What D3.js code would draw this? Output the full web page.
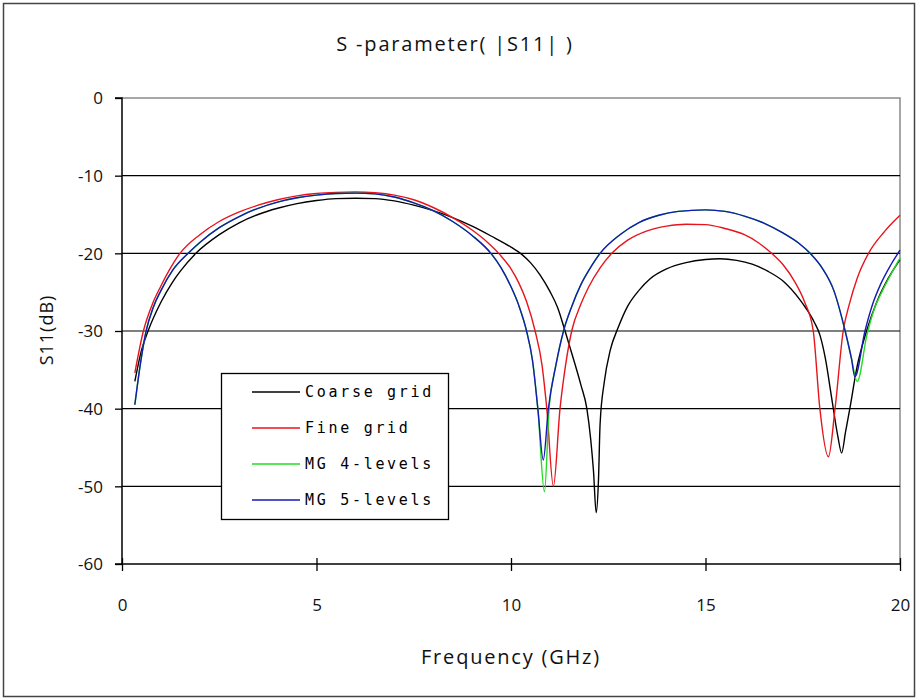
<!DOCTYPE html>
<html>
<head>
<meta charset="utf-8">
<script src="https://cdn.jsdelivr.net/npm/d3@7"></script>
<style>
  html, body { margin: 0; padding: 0; background: #fff; }
  svg { display: block; }
</style>
</head>
<body>
<svg id="chart" width="919" height="700"></svg>
<script>
// ---- Data ----
const titleText = "S -parameter( |S11| )";
const xLabel = "Frequency (GHz)";
const yLabel = "S11(dB)";
const xTicks = [0, 5, 10, 15, 20];
const yTicks = [0, -10, -20, -30, -40, -50, -60];
const seriesNames = ["Coarse grid", "Fine grid", "MG 4-levels", "MG 5-levels"];
const seriesColors = ["#000000", "#e8141c", "#22dd22", "#1818b4"];

const coarseF  = [0.33, 0.5, 0.67, 1.0, 1.3, 1.5, 1.9, 2.5, 3.0, 3.5, 4.0, 4.5, 5.0, 5.5, 6.0, 6.5, 7.0, 7.5, 8.0, 8.5, 9.0, 9.5, 10.0, 10.27, 10.5, 10.75, 11.0, 11.2, 11.39, 11.6, 11.8, 11.95, 12.05, 12.12, 12.19, 12.25, 12.29, 12.4, 12.55, 12.76, 13.0, 13.3, 13.57, 14.0, 14.5, 15.0, 15.37, 15.8, 16.2, 16.6, 17.0, 17.43, 17.6, 17.8, 17.94, 18.08, 18.24, 18.4, 18.5, 18.6, 18.71, 18.9, 19.14, 19.4, 19.7, 20.0];
const coarseDB = [-36.5, -32.5, -30, -26.3, -23.7, -22.3, -20, -17.6, -16.1, -15.0, -14.2, -13.6, -13.2, -12.95, -12.9, -12.95, -13.25, -13.8, -14.5, -15.4, -16.5, -17.8, -19.2, -20.1, -21.2, -22.8, -24.9, -27.0, -30, -33.5, -37, -40, -44, -48, -53.4, -49, -42, -36.5, -32.5, -29.5, -26.8, -24.7, -23.3, -22.0, -21.2, -20.8, -20.7, -20.9, -21.4, -22.3, -23.6, -26.0, -27.2, -28.9, -30.5, -33.5, -38.5, -43.5, -45.7, -43, -40, -34.5, -30, -26.3, -23.2, -20.8];

const fineF  = [0.33, 0.55, 0.8, 1.0, 1.2, 1.49, 2.0, 2.5, 3.0, 3.5, 4.0, 4.5, 5.0, 5.5, 6.0, 6.5, 7.0, 7.5, 8.0, 8.5, 9.0, 9.4, 9.72, 10.0, 10.2, 10.4, 10.62, 10.8, 10.92, 11.09, 11.26, 11.4, 11.56, 11.8, 12.0, 12.3, 12.59, 13.0, 13.5, 14.0, 14.5, 15.0, 15.5, 16.0, 16.35, 16.7, 17.0, 17.3, 17.55, 17.77, 17.94, 18.16, 18.33, 18.54, 18.7, 18.9, 19.19, 19.6, 20.0];
const fineDB = [-35.4, -30, -26.3, -24.2, -22.3, -20, -17.6, -15.9, -14.7, -13.8, -13.1, -12.6, -12.3, -12.15, -12.1, -12.2, -12.5, -13.1, -14.1, -15.4, -17.0, -18.6, -20.2, -22.0, -23.8, -26.2, -30, -34.5, -40, -50, -40, -34.5, -30, -26.5, -24.3, -21.8, -20, -18.3, -17.1, -16.5, -16.25, -16.3, -16.8, -17.6, -18.6, -20, -21.5, -23.7, -26.3, -30, -40, -46.2, -40, -30, -26.5, -23.2, -20, -17.2, -15.1];

const mg4F  = [0.33, 0.45, 0.62, 0.8, 1.0, 1.3, 1.7, 2.0, 2.5, 3.0, 3.5, 4.0, 4.5, 5.0, 5.5, 6.0, 6.5, 7.0, 7.5, 8.0, 8.5, 9.0, 9.5, 9.75, 10.0, 10.2, 10.4, 10.55, 10.69, 10.86, 10.98, 11.15, 11.35, 11.55, 11.8, 12.0, 12.29, 12.8, 13.3, 13.8, 14.3, 15.0, 15.5, 16.0, 16.5, 17.0, 17.4, 17.69, 18.0, 18.3, 18.59, 18.75, 18.9, 19.15, 19.35, 19.55, 19.8, 20.0];
const mg4DB = [-39.5, -35, -30, -27, -24.8, -22.2, -20, -18.6, -16.7, -15.3, -14.2, -13.4, -12.85, -12.5, -12.3, -12.25, -12.35, -12.75, -13.5, -14.5, -15.9, -17.7, -20.1, -21.9, -24.3, -26.7, -30, -33.7, -40, -50.7, -40, -34.5, -30, -27, -24, -22.2, -20, -17.6, -16.0, -15.1, -14.6, -14.4, -14.6, -15.2, -16.1, -17.4, -18.7, -20, -21.9, -24.8, -30, -33.5, -36.5, -30.5, -27, -24.8, -22.4, -20.6];

const mg5F  = [0.33, 0.45, 0.62, 0.8, 1.0, 1.3, 1.7, 2.0, 2.5, 3.0, 3.5, 4.0, 4.5, 5.0, 5.5, 6.0, 6.5, 7.0, 7.5, 8.0, 8.5, 9.0, 9.5, 9.75, 10.0, 10.2, 10.4, 10.55, 10.69, 10.83, 10.96, 11.15, 11.35, 11.55, 11.8, 12.0, 12.29, 12.8, 13.3, 13.8, 14.3, 15.0, 15.5, 16.0, 16.5, 17.0, 17.4, 17.69, 18.0, 18.3, 18.59, 18.75, 18.84, 19.1, 19.3, 19.5, 19.75, 20.0];
const mg5DB = [-39.5, -35, -30, -27, -24.8, -22.2, -20, -18.6, -16.7, -15.3, -14.2, -13.4, -12.85, -12.5, -12.3, -12.25, -12.35, -12.75, -13.5, -14.5, -15.9, -17.7, -20.1, -21.9, -24.3, -26.7, -30, -33.7, -40, -46.6, -40, -34.5, -30, -27, -24, -22.2, -20, -17.6, -16.0, -15.1, -14.6, -14.4, -14.6, -15.2, -16.1, -17.4, -18.7, -20, -21.9, -24.8, -30, -33.5, -35.9, -30, -26.5, -24.0, -21.6, -19.6];

const seriesF  = [coarseF, fineF, mg4F, mg5F];
const seriesDB = [coarseDB, fineDB, mg4DB, mg5DB];

// ---- Drawing ----
const svg = d3.select("#chart");
const W = 919, H = 700;
const plot = { left: 122, right: 900, top: 98, bottom: 564 };

const x = d3.scaleLinear().domain([0, 20]).range([plot.left, plot.right]);
const y = d3.scaleLinear().domain([-60, 0]).range([plot.bottom, plot.top]);

const labelFont = "'Open Sans', 'DejaVu Sans', sans-serif";

// white background + outer frame
svg.append("rect").attr("x", 0).attr("y", 0).attr("width", W).attr("height", H).attr("fill", "#fff");
svg.append("rect").attr("x", 3.5).attr("y", 3.5).attr("width", 911).attr("height", 693)
  .attr("fill", "none").attr("stroke", "#444").attr("stroke-width", 1.5);

// plot area border (top & right, grey)
svg.append("path")
  .attr("d", `M${plot.left},${plot.top}H${plot.right}V${plot.bottom}`)
  .attr("fill", "none").attr("stroke", "#8a8a8a").attr("stroke-width", 1.5);

// gridlines
svg.append("g").selectAll("line").data(yTicks.filter(v => v !== 0 && v !== -60)).join("line")
  .attr("x1", plot.left).attr("x2", plot.right)
  .attr("y1", d => y(d)).attr("y2", d => y(d))
  .attr("stroke", "#000").attr("stroke-width", 1.2);

// y axis
const yAxis = d3.axisLeft(y).tickValues(yTicks).tickSize(7).tickFormat(d => d === 0 ? "0" : "-" + Math.abs(d));
const gy = svg.append("g").attr("transform", `translate(${plot.left},0)`).call(yAxis);
gy.select(".domain").attr("stroke", "#000").attr("stroke-width", 1.5).attr("d", `M-7,${plot.top}H0V${plot.bottom}`);
gy.selectAll(".tick line").attr("stroke", "#000").attr("stroke-width", 1.3);
gy.selectAll(".tick text").attr("font-family", labelFont).attr("font-size", 17).attr("fill", "#111")
  .attr("x", -19).attr("dy", "0.35em");

// x axis
const xAxis = d3.axisBottom(x).tickValues(xTicks).tickSize(6).tickFormat(d3.format("d"));
const gx = svg.append("g").attr("transform", `translate(0,${plot.bottom})`).call(xAxis);
gx.select(".domain").attr("stroke", "#000").attr("stroke-width", 1.5).attr("d", `M${plot.left - 7},0H${plot.right}`);
gx.selectAll(".tick line").attr("stroke", "#000").attr("stroke-width", 1.3).attr("y1", -6).attr("y2", 7);
gx.selectAll(".tick text").attr("font-family", labelFont).attr("font-size", 17).attr("fill", "#111")
  .attr("y", 47).attr("dy", "0");

// series lines
const line = d3.line().x(d => x(d[0])).y(d => y(d[1])).curve(d3.curveMonotoneX);
const gLines = svg.append("g");
seriesF.forEach((fs, i) => {
  const pts = fs.map((f, j) => [f, seriesDB[i][j]]);
  gLines.append("path").datum(pts)
    .attr("d", line)
    .attr("fill", "none")
    .attr("stroke", seriesColors[i])
    .attr("stroke-width", 1.4)
    .attr("stroke-linejoin", "round");
});

// legend
const lg = svg.append("g");
lg.append("rect").attr("x", 221.5).attr("y", 373.5).attr("width", 227).attr("height", 146)
  .attr("fill", "#fff").attr("stroke", "#000").attr("stroke-width", 1.3);
const rowY = [392, 428, 464, 500];
seriesNames.forEach((name, i) => {
  lg.append("line").attr("x1", 252).attr("x2", 300).attr("y1", rowY[i]).attr("y2", rowY[i])
    .attr("stroke", seriesColors[i]).attr("stroke-width", 1.5);
  lg.append("text").attr("x", 305).attr("y", rowY[i]).attr("dy", "0.35em")
    .attr("font-family", "'DejaVu Sans Mono', monospace").attr("font-size", 15)
    .attr("letter-spacing", 2.7).attr("fill", "#000").text(name);
});

// title
svg.append("text").attr("x", 455).attr("y", 44).attr("dy", "0.35em").attr("text-anchor", "middle")
  .attr("font-family", labelFont).attr("font-size", 20).attr("letter-spacing", 1.8)
  .attr("fill", "#111").text(titleText);

// axis titles
svg.append("text").attr("x", 511).attr("y", 657).attr("dy", "0.35em").attr("text-anchor", "middle")
  .attr("font-family", labelFont).attr("font-size", 20).attr("letter-spacing", 1.8)
  .attr("fill", "#111").text(xLabel);
svg.append("text").attr("transform", "translate(47,330) rotate(-90)").attr("dy", "0.35em").attr("text-anchor", "middle")
  .attr("font-family", labelFont).attr("font-size", 18).attr("letter-spacing", 1)
  .attr("fill", "#111").text(yLabel);
</script>
</body>
</html>
